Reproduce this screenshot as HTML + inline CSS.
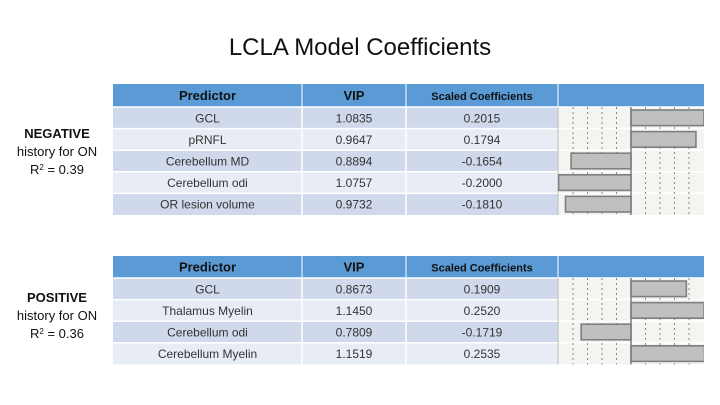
<!DOCTYPE html>
<html><head><meta charset="utf-8"><style>
html,body{margin:0;padding:0;background:#fff;}
#root{position:relative;width:720px;height:405px;overflow:hidden;font-family:"Liberation Sans",sans-serif;}
svg text{font-family:"Liberation Sans",sans-serif;}
</style></head><body>
<div id="root">
<svg id="svg" width="720" height="405" viewBox="0 0 720 405">
<text x="360" y="55" text-anchor="middle" font-size="24" fill="#111">LCLA Model Coefficients</text>
<g text-anchor="middle" font-size="13" fill="#111">
<text x="57" y="138" font-weight="bold">NEGATIVE</text>
<text x="57" y="156">history for ON</text>
<text x="57" y="174">R<tspan baseline-shift="super" font-size="8">2</tspan> = 0.39</text>
</g>
<g text-anchor="middle" font-size="13" fill="#111">
<text x="57" y="302" font-weight="bold">POSITIVE</text>
<text x="57" y="320">history for ON</text>
<text x="57" y="338">R<tspan baseline-shift="super" font-size="8">2</tspan> = 0.36</text>
</g>
</svg>
</div>
<script>
const negPredictors = ["GCL","pRNFL","Cerebellum MD","Cerebellum odi","OR lesion volume"];
const negVIP = ["1.0835","0.9647","0.8894","1.0757","0.9732"];
const negCoef = [0.2015,0.1794,-0.1654,-0.2000,-0.1810];
const negCoefLabels = ["0.2015","0.1794","-0.1654","-0.2000","-0.1810"];
const negGridStep = 0.04;

const posPredictors = ["GCL","Thalamus Myelin","Cerebellum odi","Cerebellum Myelin"];
const posVIP = ["0.8673","1.1450","0.7809","1.1519"];
const posCoef = [0.1909,0.2520,-0.1719,0.2535];
const posCoefLabels = ["0.1909","0.2520","-0.1719","0.2535"];
const posGridStep = 0.05;

const NS="http://www.w3.org/2000/svg";
const svg=document.getElementById('svg');
function mk(tag,attrs,parent){const e=document.createElementNS(NS,tag);for(const k in attrs)e.setAttribute(k,attrs[k]);(parent||svg).appendChild(e);return e;}
const cols=[113,302,406,558,704];
function drawTable(name,top,headerH,rowH,preds,vips,coefs,labels,scale,gridStep){
  const g=mk('g',{});
  
  
  const hdr=mk('rect',{x:cols[0],y:top,width:cols[4]-cols[0],height:headerH,fill:'#5b9bd5'},g);
  
  
  const heads=["Predictor","VIP","Scaled Coefficients"];
  const hsz=[13,13,11];
  for(let c=0;c<3;c++){
    const t=mk('text',{x:(cols[c]+cols[c+1])/2,y:top+headerH/2+4.5,'text-anchor':'middle','font-size':hsz[c],'font-weight':'bold',fill:'#111'},g);
    t.textContent=heads[c];
    
    
  }
  for(let c=1;c<4;c++) mk('line',{x1:cols[c],x2:cols[c],y1:top,y2:top+headerH,stroke:'#fff','stroke-width':1},g);
  const bodyTop=top+headerH, n=preds.length;
  const zero=631;
  const xs=v=>zero+v*scale;
  mk('rect',{x:cols[3],y:bodyTop,width:cols[4]-cols[3],height:n*rowH,fill:'#f4f4f1'},g);
  for(let i=0;i<n;i++){
    const y=bodyTop+i*rowH;
    const r=mk('rect',{x:cols[0],y:y,width:cols[3]-cols[0],height:rowH,fill:i%2===0?'#cfd9eb':'#e8edf5'},g);
    
    
    mk('line',{x1:cols[0],x2:cols[4],y1:y,y2:y,stroke:'#fff','stroke-width':1.5},g);
    const vals=[preds[i],vips[i],labels[i]];
    for(let c=0;c<3;c++){
      const t=mk('text',{x:(cols[c]+cols[c+1])/2,y:y+rowH/2+4.5,'text-anchor':'middle','font-size':12,fill:'#333'},g);
      t.textContent=vals[c];
      
      
    }
  }
  for(let c=1;c<3;c++) mk('line',{x1:cols[c],x2:cols[c],y1:bodyTop,y2:bodyTop+n*rowH,stroke:'#fff','stroke-width':1.5},g);
  for(let k=1;k<=4;k++){
    [xs(k*gridStep),xs(-k*gridStep)].forEach(x=>{
      const l=mk('line',{x1:x,x2:x,y1:bodyTop,y2:bodyTop+n*rowH,stroke:'#888','stroke-width':1,'stroke-dasharray':'2,3'},g);
      
      
    });
  }
  mk('line',{x1:cols[3],x2:cols[3],y1:bodyTop,y2:bodyTop+n*rowH,stroke:'#bbb','stroke-width':1},g);
  const clip=mk('clipPath',{id:name+'-clip'},g);
  mk('rect',{x:cols[3],y:bodyTop,width:cols[4]-cols[3],height:n*rowH},clip);
  const bg=mk('g',{'clip-path':'url(#'+name+'-clip)'},g);
  for(let i=0;i<n;i++){
    const y=bodyTop+i*rowH;
    const x0=Math.min(xs(0),xs(coefs[i])), w=Math.abs(xs(coefs[i])-xs(0));
    const b=mk('rect',{x:x0,y:y+3,width:w,height:rowH-6,fill:'#c0c0c0',stroke:'#7f7f7f','stroke-width':1.6},bg);
    
    
  }
  mk('line',{x1:zero,x2:zero,y1:bodyTop,y2:bodyTop+n*rowH,stroke:'#7f7f7f','stroke-width':1.5},g);
}
drawTable('negative-table',84,23,21.6,negPredictors,negVIP,negCoef,negCoefLabels,362,negGridStep);
drawTable('positive-table',256,22,21.6,posPredictors,posVIP,posCoef,posCoefLabels,290,posGridStep);
</script>
</body></html>
